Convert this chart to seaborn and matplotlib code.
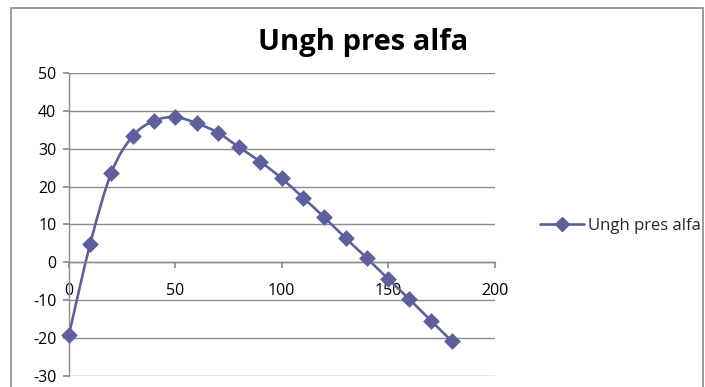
import numpy as np
import pandas as pd
import matplotlib
matplotlib.use("Agg")
import matplotlib.pyplot as plt
import seaborn as sns
from matplotlib.path import Path
from matplotlib.patches import PathPatch, Rectangle
from matplotlib.lines import Line2D

# Data
angle = [0, 10, 20, 30, 40, 50, 60, 70, 80, 90, 100, 110, 120, 130, 140, 150, 160, 170, 180]
values = [-19.3, 4.8, 23.7, 33.4, 37.4, 38.4, 36.8, 34.3, 30.4, 26.6, 22.2, 17.1, 11.9, 6.4, 1.1, -4.4, -9.8, -15.4, -20.9]
series_name = "Ungh pres alfa"
title = "Ungh pres alfa"
x_ticks = [0, 50, 100, 150, 200]
y_ticks = [-30, -20, -10, 0, 10, 20, 30, 40, 50]

line_color = "#5E609E"
grid_color = "#8C8C8C"

sns.set_theme(style="white")
plt.rcParams["font.family"] = ["Open Sans", "DejaVu Sans"]
plt.rcParams["axes.unicode_minus"] = False

df = pd.DataFrame({"angle": angle, "value": values})

fig = plt.figure(figsize=(7.05, 3.87), dpi=100)
fig.patch.set_facecolor("white")

# chart frame
fig.patches.append(Rectangle((11 / 705, -0.05), 692 / 705, 1.05 - 8 / 387,
                             transform=fig.transFigure, fill=False,
                             edgecolor="#8A8A8A", linewidth=1.2))

ax = fig.add_axes([0.0976, 0.0292, 0.604, 0.7814])
ax.set_xlim(0, 200)
ax.set_ylim(-30, 50)


def smooth_path(xs, ys, t=1 / 6):
    """Cubic Bezier path through the points (Catmull-Rom style smoothing)."""
    pts = np.column_stack([xs, ys]).astype(float)
    n = len(pts)
    verts = [pts[0]]
    codes = [Path.MOVETO]
    for i in range(n - 1):
        p_prev = pts[i - 1] if i > 0 else pts[i]
        p0 = pts[i]
        p1 = pts[i + 1]
        p_next = pts[i + 2] if i + 2 < n else pts[i + 1]
        c1 = p0 + (p1 - p_prev) * t
        c2 = p1 - (p_next - p0) * t
        verts += [c1, c2, p1]
        codes += [Path.CURVE4] * 3
    return Path(verts, codes)


ax.add_patch(PathPatch(smooth_path(df["angle"], df["value"]), fill=False,
                       edgecolor=line_color, linewidth=1.9, zorder=2,
                       clip_on=False))
sns.scatterplot(data=df, x="angle", y="value", marker="D", s=64,
                color=line_color, edgecolor=line_color, linewidth=0.5,
                ax=ax, zorder=3, legend=False, clip_on=False)

# axes styling
ax.set_xticks(x_ticks)
ax.set_yticks(y_ticks)
ax.set_xlabel("")
ax.set_ylabel("")
ax.yaxis.grid(True, color=grid_color, linewidth=1.0)
ax.xaxis.grid(False)
ax.set_axisbelow(True)
for s in ["top", "right"]:
    ax.spines[s].set_visible(False)
ax.spines["bottom"].set_position(("data", 0))
ax.spines["bottom"].set_color(grid_color)
ax.spines["left"].set_color(grid_color)
ax.spines["left"].set_linewidth(1.0)
ax.spines["bottom"].set_linewidth(1.0)
ax.tick_params(axis="both", which="both", direction="out", length=4,
               color=grid_color, labelsize=11.5, labelcolor="black")
ax.tick_params(axis="x", pad=11)
ax.tick_params(axis="y", pad=5, left=True)
ax.tick_params(axis="x", bottom=True)

fig.text(0.515, 0.89, title, ha="center", va="center",
         fontsize=21, fontweight="bold", color="black")

handle = Line2D([], [], color=line_color, linewidth=1.9, marker="D",
                markersize=7.5, markerfacecolor=line_color)
fig.legend([handle], [series_name], loc="center left",
           bbox_to_anchor=(0.757, 0.417), frameon=False, fontsize=12,
           handlelength=2.6, handletextpad=0.25, borderaxespad=0)

fig.savefig("out.png", dpi=100)
